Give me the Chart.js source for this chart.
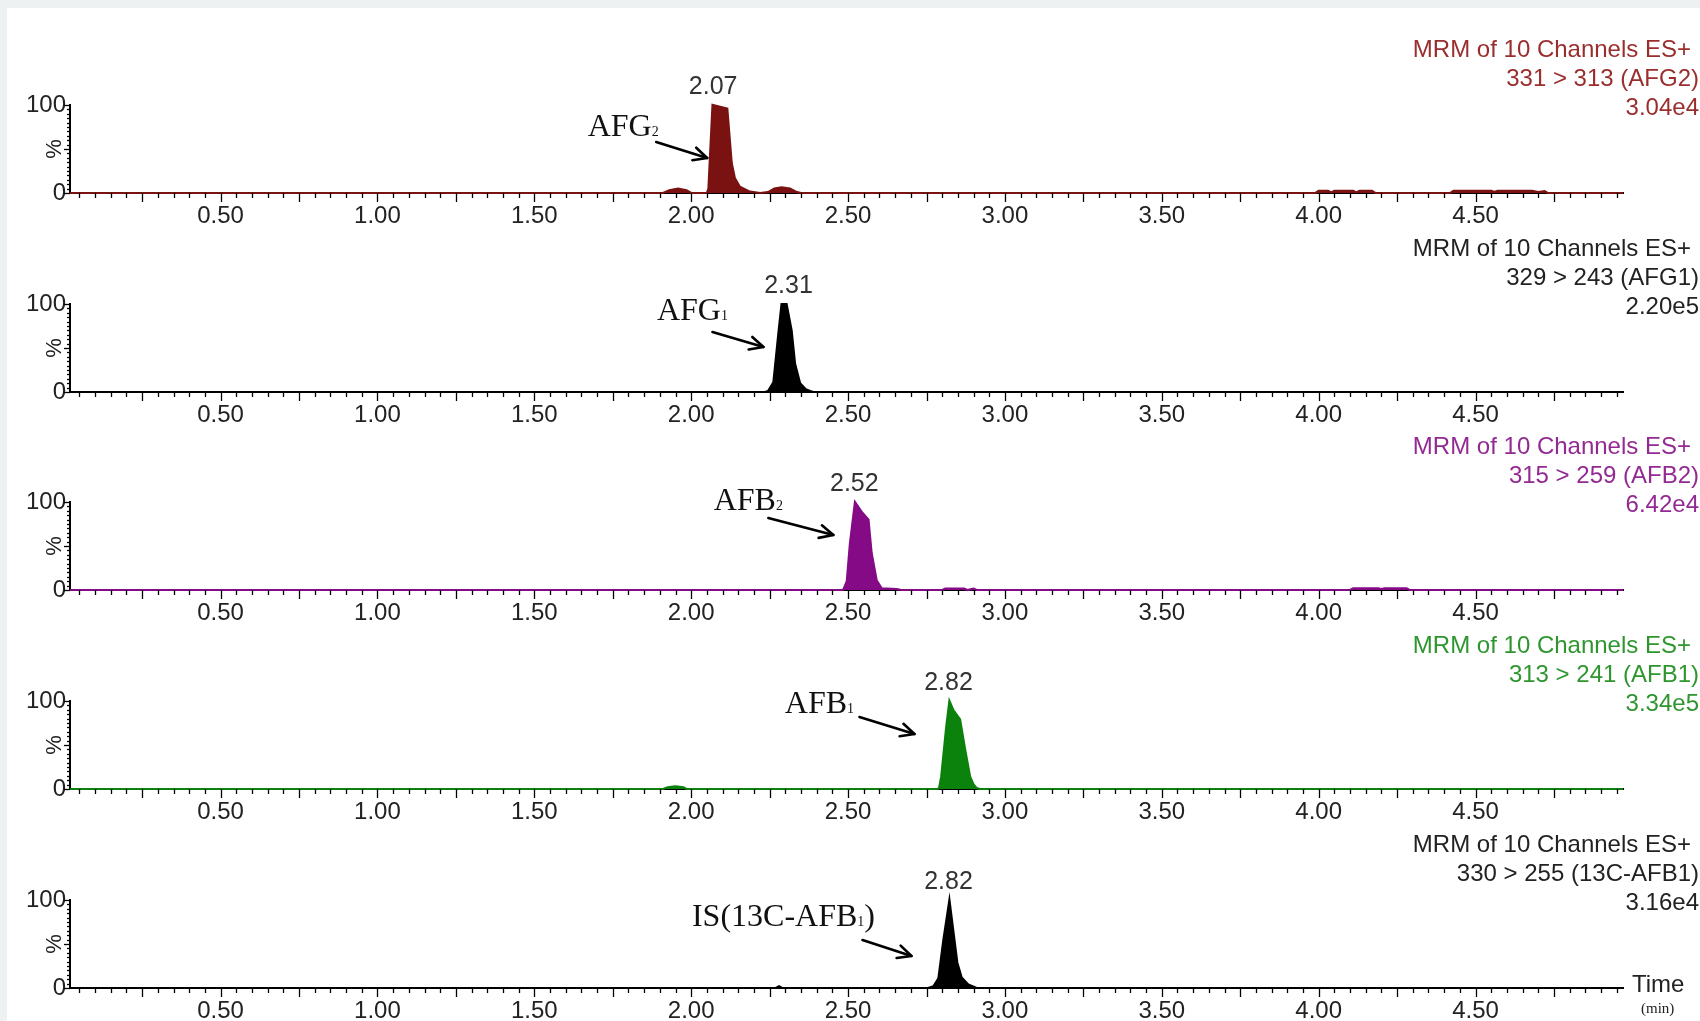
<!DOCTYPE html>
<html><head><meta charset="utf-8">
<script src="https://cdn.jsdelivr.net/npm/chart.js@4.4.1/dist/chart.umd.min.js"></script>
<style>
html,body{margin:0;padding:0;background:#fff;}
#wrap{position:relative;width:1700px;height:1021px;overflow:hidden;background:#fff;}
.strip{position:absolute;background:#eef1f1;}
canvas{position:absolute;left:0;}
</style></head><body>
<div id="wrap">
  <div class="strip" style="left:0;top:0;width:1700px;height:8px"></div>
  <div class="strip" style="left:0;top:0;width:7px;height:1021px"></div>
</div>
<script>
// ---------- data ----------
const xTickValues = [0.5, 1.0, 1.5, 2.0, 2.5, 3.0, 3.5, 4.0, 4.5];
const xTickLabels = ['0.50','1.00','1.50','2.00','2.50','3.00','3.50','4.00','4.50'];
const yTickValues = [0, 100];
const yTickLabels = ['0', '100'];
const timeMin = 0.02, timeMax = 4.97;

const headerText = 'MRM of 10 Channels ES+';
const channelNames = ['331 > 313 (AFG2)', '329 > 243 (AFG1)', '315 > 259 (AFB2)', '313 > 241 (AFB1)', '330 > 255 (13C-AFB1)'];
const intensities = ['3.04e4', '2.20e5', '6.42e4', '3.34e5', '3.16e4'];
const peakRT = [2.07, 2.31, 2.52, 2.82, 2.82];
const peakRTLabels = ['2.07', '2.31', '2.52', '2.82', '2.82'];
const compoundMain = ['AFG', 'AFG', 'AFB', 'AFB', 'IS(13C-AFB'];
const compoundSub = ['2', '1', '2', '1', '1'];
const compoundTail = ['', '', '', '', ')'];

const afg2Time = [0.02,1.91,1.93,1.958,1.985,2.00,2.050,2.055,2.068,2.115,2.129,2.139,2.155,2.187,2.22,2.245,2.265,2.288,2.315,2.337,2.35,3.99,4.00,4.03,4.04,4.05,4.11,4.12,4.13,4.17,4.18,4.42,4.43,4.55,4.56,4.57,4.68,4.70,4.72,4.73,4.97];
const afg2Pct  = [0,   0,   3,   5,    3,    0,   0,    5,    100,  96,   34,   17,   7,    1.5,  0,   1,    5,    6.5,  5,    1,    0,   0,   2.5, 2.5, 0.5, 2.5, 2.5, 0.5, 2.5, 2.5, 0,   0,   2.5, 2.5, 1,   2.5, 2.5, 1,   2,   0,   0];

const afg1Time = [0.02,2.235,2.245,2.262,2.278,2.288,2.304,2.32,2.331,2.347,2.365,2.379,2.39,4.97];
const afg1Pct  = [0,   0,    1,    11,   67,   100,  100,  70,  32,   10,   3,    1,    0,   0];

const afb2Time = [0.02,2.48,2.485,2.496,2.506,2.522,2.545,2.565,2.575,2.591,2.607,2.655,2.67,2.80,2.81,2.87,2.88,2.90,2.91,4.10,4.11,4.19,4.20,4.21,4.28,4.29,4.97];
const afb2Pct  = [0,   0,   0.5,  10,   53,   100,  88,   80,   42,   11,   2,    1,    0,   0,   1.5, 1.5, 0,   1.5, 0,   0,   2,   2,   1,   2,   2,   0,   0];

const afb1Time = [0.02,1.91,1.925,1.95,1.975,1.985,2.785,2.79,2.797,2.813,2.823,2.835,2.857,2.873,2.889,2.90,2.91,2.92,4.97];
const afb1Pct  = [0,   0,   2,    3,   2,    0,    0,    1,   14,   71,   100,  90,   79,   45,   14,   5,   1,   0,   0];

const isTime = [0.02,2.27,2.28,2.29,2.755,2.772,2.788,2.804,2.823,2.835,2.848,2.862,2.883,2.91,4.97];
const isPct  = [0,   0,   2,   0,   0,    2,    11,   55,   100,  66,   29,   12,   4,    0,   0];

const seriesTimes = [afg2Time, afg1Time, afb2Time, afb1Time, isTime];
const seriesPcts  = [afg2Pct, afg1Pct, afb2Pct, afb1Pct, isPct];

// ---------- styles / layout ----------
const traceColors  = ['#7a1212', '#000000', '#850a85', '#0b820b', '#000000'];
const headerColors = ['#9a2d2d', '#222222', '#932a93', '#2f962f', '#222222'];
const canvasTops = [0, 199, 397, 596, 795];
const CH = 226, PAD_TOP = 105, AREA_H = 88, LEFT = 70, RIGHT_PAD = 77;
// annotation offsets relative to (x of RT, top of plot area)
const nameOffsets  = [[-90,20],[-96,5],[-106,-3],[-129,1],[-165,15]];
const arrowOffsets = [[-57,37,-6,53],[-76,28,-25,43],[-86,16,-21,33],[-89,16,-34,33],[-86,40,-37,56]];

const SANS = '"Liberation Sans", Arial, sans-serif';
const SERIF = '"Liberation Serif", "Times New Roman", serif';
Chart.defaults.font.family = SANS;

function drawArrow(ctx, x1, y1, x2, y2) {
  ctx.save();
  ctx.strokeStyle = '#000'; ctx.lineWidth = 2.6; ctx.lineCap = 'round'; ctx.lineJoin = 'round';
  ctx.beginPath(); ctx.moveTo(x1, y1); ctx.lineTo(x2, y2); ctx.stroke();
  const a = Math.atan2(y2 - y1, x2 - x1), L = 15, sp = 0.45;
  ctx.beginPath();
  ctx.moveTo(x2 - L * Math.cos(a - sp), y2 - L * Math.sin(a - sp));
  ctx.lineTo(x2, y2);
  ctx.lineTo(x2 - L * Math.cos(a + sp), y2 - L * Math.sin(a + sp));
  ctx.stroke();
  ctx.restore();
}

const decorPlugin = {
  id: 'decor',
  afterDraw(chart, args, opts) {
    const i = opts.panel;
    const ctx = chart.ctx, ca = chart.chartArea, x = chart.scales.x, y = chart.scales.y;
    ctx.save();
    // x minor / major ticks
    ctx.strokeStyle = '#000'; ctx.lineWidth = 1.3;
    for (let k = 1; k < 100; k++) {
      const v = k * 0.05;
      if (v < x.min || v > x.max) continue;
      const px = Math.round(x.getPixelForValue(v)) + 0.5;
      const len = (k % 5 === 0) ? 9 : 5;
      ctx.beginPath(); ctx.moveTo(px, ca.bottom); ctx.lineTo(px, ca.bottom + len); ctx.stroke();
    }
    // y ticks
    for (let k = 0; k <= 20; k++) {
      const py = Math.round(y.getPixelForValue(k * 5)) + 0.5;
      const len = (k % 10 === 0) ? 6 : 3;
      ctx.beginPath(); ctx.moveTo(ca.left - len, py); ctx.lineTo(ca.left, py); ctx.stroke();
    }
    // % title
    ctx.save();
    ctx.translate(ca.left - 15, (ca.top + ca.bottom) / 2);
    ctx.rotate(-Math.PI / 2);
    ctx.font = '22px ' + SANS; ctx.fillStyle = '#222';
    ctx.textAlign = 'center'; ctx.textBaseline = 'middle';
    ctx.fillText('%', 0, 0);
    ctx.restore();
    // header (top right)
    ctx.font = '24px ' + SANS; ctx.fillStyle = headerColors[i];
    ctx.textAlign = 'right'; ctx.textBaseline = 'middle';
    ctx.fillText(headerText, 1691, ca.top - 55);
    ctx.fillText(channelNames[i], 1699, ca.top - 26);
    ctx.fillText(intensities[i], 1699, ca.top + 3);
    // peak RT label
    const xr = x.getPixelForValue(peakRT[i]);
    ctx.font = '25px ' + SANS; ctx.fillStyle = '#333'; ctx.textAlign = 'center';
    ctx.fillText(peakRTLabels[i], xr, ca.top - 18);
    // compound name with subscript
    const mainF = '32px ' + SERIF, subF = '14px ' + SERIF;
    ctx.font = mainF; const w1 = ctx.measureText(compoundMain[i]).width;
    const w3 = ctx.measureText(compoundTail[i]).width;
    ctx.font = subF; const w2 = ctx.measureText(compoundSub[i]).width;
    const tw = w1 + w2 + w3;
    let sx = xr + nameOffsets[i][0] - tw / 2;
    const by = ca.top + nameOffsets[i][1] + 11;
    ctx.fillStyle = '#111'; ctx.textAlign = 'left'; ctx.textBaseline = 'alphabetic';
    ctx.font = mainF; ctx.fillText(compoundMain[i], sx, by); sx += w1;
    ctx.font = subF; ctx.fillText(compoundSub[i], sx, by); sx += w2;
    ctx.font = mainF; ctx.fillText(compoundTail[i], sx, by);
    // arrow
    const ao = arrowOffsets[i];
    drawArrow(ctx, xr + ao[0], ca.top + ao[1], xr + ao[2], ca.top + ao[3]);
    // Time label on last panel
    if (i === 4) {
      ctx.fillStyle = '#222'; ctx.textAlign = 'left'; ctx.textBaseline = 'middle';
      ctx.font = '24px ' + SANS; ctx.fillText('Time', ca.right + 9, ca.bottom - 3);
      ctx.font = '15px ' + SERIF; ctx.fillText('(min)', ca.right + 18, ca.bottom + 21);
    }
    ctx.restore();
  }
};

const wrap = document.getElementById('wrap');
for (let i = 0; i < 5; i++) {
  const cv = document.createElement('canvas');
  cv.width = 1700; cv.height = CH;
  cv.style.top = canvasTops[i] + 'px';
  cv.style.width = '1700px'; cv.style.height = CH + 'px';
  wrap.appendChild(cv);
  const pts = seriesTimes[i].map((t, k) => ({ x: t, y: seriesPcts[i][k] }));
  new Chart(cv, {
    type: 'line',
    data: { datasets: [{
      data: pts, borderColor: traceColors[i], backgroundColor: traceColors[i],
      borderWidth: 2.2, pointRadius: 0, tension: 0, fill: 'origin', clip: false
    }] },
    options: {
      responsive: false, animation: false, devicePixelRatio: 1,
      layout: { padding: { top: PAD_TOP, left: 0, right: RIGHT_PAD, bottom: 0 } },
      plugins: { legend: { display: false }, tooltip: { enabled: false }, decor: { panel: i } },
      scales: {
        x: {
          type: 'linear', min: timeMin, max: timeMax,
          afterBuildTicks: ax => { ax.ticks = xTickValues.map(v => ({ value: v })); },
          afterFit: ax => { ax.height = CH - PAD_TOP - AREA_H; },
          grid: { display: false, drawTicks: false },
          border: { display: true, color: '#000', width: 2 },
          ticks: {
            autoSkip: false, maxRotation: 0, padding: 9, color: '#222',
            font: { size: 24, family: SANS },
            callback: v => { const k = xTickValues.findIndex(t => Math.abs(t - v) < 1e-6); return k >= 0 ? xTickLabels[k] : ''; }
          }
        },
        y: {
          min: 0, max: 100,
          afterBuildTicks: ax => { ax.ticks = yTickValues.map(v => ({ value: v })); },
          afterFit: ax => { ax.width = LEFT; },
          grid: { display: false, drawTicks: false },
          border: { display: true, color: '#000', width: 2 },
          ticks: {
            padding: 4, color: '#222', font: { size: 24, family: SANS },
            callback: v => { const k = yTickValues.indexOf(v); return k >= 0 ? yTickLabels[k] : ''; }
          }
        }
      }
    },
    plugins: [decorPlugin]
  });
}
</script>
</body></html>
